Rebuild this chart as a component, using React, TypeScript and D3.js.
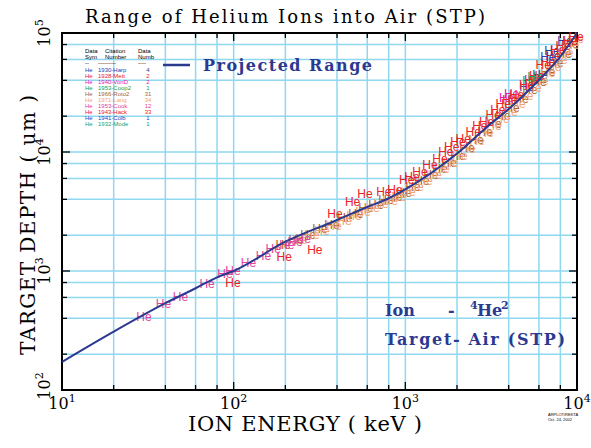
import { curveMonotoneX, line, scaleLog } from "d3";

// projected range curve (keV -> um)
const rangeEnergy = [10, 20, 40, 60, 80, 100, 200, 400, 600, 800, 1000, 2000, 3000, 4000, 6000, 8000, 10000];
const rangeDepth = [172, 309, 536, 716, 885, 1000, 1762, 2685, 3450, 4085, 4850, 9700, 16330, 22960, 40300, 63400, 100000];

// measured data, [energy keV, depth um]
const harpPts = [[5105, 34500], [6082, 43550], [7145, 69200], [8510, 83900]];
const mettPts = [[99, 778], [197, 1280]];
const vondPts = [[3890, 28250], [4159, 30130]];
const coop2Pts = [[5318, 38730]];
const roto2Pts = [
  [194, 1622], [231, 1787], [271, 1968], [318, 2213], [374, 2388], [444, 2735], [515, 2957], [590, 3320],
  [675, 3516], [771, 3873], [869, 4109], [981, 4438], [1107, 4989], [1250, 5600], [1409, 6292], [1591, 7069],
  [1795, 7932], [2024, 9078], [2285, 10600], [2578, 12380], [2910, 14460], [3283, 16880], [3702, 19690],
  [4178, 23020], [4714, 27380], [5318, 32580], [6000, 38030], [6761, 46140], [7530, 54960], [8389, 65370],
  [9211, 79320],
];
const langPts = [
  [243, 1784], [286, 1969], [327, 2127], [384, 2341], [439, 2580], [502, 2843], [566, 3070], [639, 3318],
  [721, 3585], [813, 3798], [918, 4104], [1035, 4523], [1153, 4984], [1301, 5593], [1468, 6280], [1634, 7050],
  [1843, 7914], [2080, 9072], [2317, 10380], [2615, 12130], [2947, 14160], [3283, 16210], [3654, 18550],
  [4069, 21240], [4531, 24800], [5038, 28980], [5610, 33840], [6164, 38730], [6761, 45230], [7329, 50760],
  [7943, 58140], [8610, 66550], [9333, 77670], [9862, 87380],
];
const cookPts = [
  [30, 405], [39, 518], [49, 597], [70, 763], [89, 925], [99, 986], [122, 1145], [149, 1303], [170, 1500],
  [204, 1622], [228, 1709], [254, 1822],
];
const hackPts = [
  [297, 1472], [389, 2993], [493, 3706], [582, 4355], [750, 4528], [869, 4678], [1018, 5675], [1094, 6053],
  [1217, 6668], [1391, 7589], [1591, 8617], [1722, 9818], [1862, 10810], [2024, 11910], [2175, 12700],
  [2485, 14460], [2716, 16220], [2974, 17540], [3251, 19960], [3459, 22140], [3716, 25000], [4064, 26860],
  [4447, 29380], [5083, 35650], [5455, 39530], [5815, 43240], [6357, 52480], [6761, 55970], [7268, 63670],
  [7742, 70630], [8312, 77260], [9094, 85100], [9862, 90770],
];
const colbPts = [[6761, 61620]];
const modePts = [[5690, 41880]];

const seriesCitation = ["1930-Harp", "1928-Mett", "1940-VonD", "1953-Coop2", "1966-Roto2", "1971-Lang", "1953-Cook", "1943-Hack", "1941-Colb", "1932-Mode"];
const seriesCount = ["4", "2", "2", "1", "31", "34", "12", "33", "1", "1"];
const seriesColor = ["#2f3ca8", "#e8202a", "#e020b8", "#18a048", "#a8642c", "#f4a474", "#e2449a", "#ec2224", "#3040c0", "#20a070"];
const seriesPts = [harpPts, mettPts, vondPts, coop2Pts, roto2Pts, langPts, cookPts, hackPts, colbPts, modePts];

const xDecades = [10, 100, 1000, 10000];
const yDecades = [100, 1000, 10000, 100000];
const xExp = ["1", "2", "3", "4"];
const yExp = ["2", "3", "4", "5"];
const minorMult = [2, 4, 6, 8];

const W = 591;
const H = 448;
const L = 62;
const R = 577;
const T = 33;
const B = 390;
const GRID = "#8ed8f0";
const BLUE = "#2b3990";

export default function App() {
  const x = scaleLog().domain([10, 10000]).range([L, R]);
  const y = scaleLog().domain([100, 100000]).range([B, T]);

  const xGrid: number[] = [];
  xDecades.forEach((d, i) => {
    if (i > 0) xGrid.push(d);
    if (i < xDecades.length - 1) minorMult.forEach((m) => xGrid.push(d * m));
  });
  const yGrid: number[] = [];
  yDecades.forEach((d, i) => {
    if (i > 0) yGrid.push(d);
    if (i < yDecades.length - 1) minorMult.forEach((m) => yGrid.push(d * m));
  });

  const curve = line<number>()
    .x((i) => x(rangeEnergy[i]))
    .y((i) => y(rangeDepth[i]))
    .curve(curveMonotoneX)(rangeEnergy.map((_, i) => i)) ?? "";

  const serif = "'DejaVu Serif', serif";
  const sans = "'Liberation Sans', Arial, sans-serif";

  return (
    <svg width={W} height={H} style={{ position: "absolute", left: 0, top: 0, background: "#fff" }}>
      {/* grid */}
      {xGrid.map((v) => (
        <line key={"gx" + v} x1={x(v)} x2={x(v)} y1={T} y2={B} stroke={GRID} strokeWidth={1.5} />
      ))}
      {yGrid.map((v) => (
        <line key={"gy" + v} x1={L} x2={R} y1={y(v)} y2={y(v)} stroke={GRID} strokeWidth={1.5} />
      ))}
      {/* ticks */}
      {xGrid.map((v) => {
        const len = xDecades.includes(v) ? 8 : 5;
        return (
          <g key={"tx" + v} stroke="#000" strokeWidth={1.3}>
            <line x1={x(v)} x2={x(v)} y1={B} y2={B - len} />
            <line x1={x(v)} x2={x(v)} y1={T} y2={T + len} />
          </g>
        );
      })}
      {yGrid.map((v) => {
        const len = yDecades.includes(v) ? 8 : 5;
        return (
          <g key={"ty" + v} stroke="#000" strokeWidth={1.3}>
            <line x1={L} x2={L + len} y1={y(v)} y2={y(v)} />
            <line x1={R} x2={R - len} y1={y(v)} y2={y(v)} />
          </g>
        );
      })}
      <rect x={L} y={T} width={R - L} height={B - T} fill="none" stroke="#000" strokeWidth={2} />

      {/* data markers */}
      {seriesPts.map((pts, s) =>
        pts.map((p, i) => (
          <text
            key={s + "-" + i}
            x={x(p[0])}
            y={y(p[1])}
            fill={seriesColor[s]}
            fontFamily={sans}
            fontSize={12}
            textAnchor="middle"
            dominantBaseline="middle"
          >
            He
          </text>
        )),
      )}

      <path d={curve} fill="none" stroke={BLUE} strokeWidth={2} />

      {/* tick labels */}
      {xDecades.map((v, i) => (
        <text key={"xl" + v} x={x(v)} y={409} textAnchor="middle" fontFamily={serif} fontSize={16}>
          10
          <tspan fontSize={11} dy={-7}>{xExp[i]}</tspan>
        </text>
      ))}
      {yDecades.map((v, i) => (
        <text
          key={"yl" + v}
          transform={`translate(50,${y(v) - (i === 0 ? 4 : 0)}) rotate(-90)`}
          textAnchor="middle"
          fontFamily={serif}
          fontSize={16}
        >
          10
          <tspan fontSize={11} dy={-7}>{yExp[i]}</tspan>
        </text>
      ))}

      {/* titles */}
      <text x={285} y={23} textAnchor="middle" fontFamily={serif} fontSize={18} textLength={400} lengthAdjust="spacing">
        Range of Helium Ions into Air (STP)
      </text>
      <text x={305} y={431} textAnchor="middle" fontFamily={serif} fontSize={21} textLength={234} lengthAdjust="spacing">
        ION ENERGY ( keV )
      </text>
      <text
        transform="translate(35,225) rotate(-90)"
        textAnchor="middle"
        fontFamily={serif}
        fontSize={20}
        textLength={260}
        lengthAdjust="spacing"
      >
        TARGET DEPTH ( um )
      </text>

      {/* projected range legend */}
      <line x1={163} x2={190} y1={65} y2={65} stroke={BLUE} strokeWidth={2.5} />
      <text x={203} y={71} fill={BLUE} fontFamily={serif} fontWeight="bold" fontSize={16} textLength={169} lengthAdjust="spacing">
        Projected Range
      </text>

      {/* ion / target note */}
      <text y={316} fill={BLUE} fontFamily={serif} fontWeight="bold" fontSize={16}>
        <tspan x={385}>Ion</tspan>
        <tspan x={448}>-</tspan>
        <tspan x={470} fontSize={11} dy={-7}>4</tspan>
        <tspan x={477} dy={7}>He</tspan>
        <tspan x={501} fontSize={11} dy={-7}>2</tspan>
      </text>
      <text x={385} y={345} fill={BLUE} fontFamily={serif} fontWeight="bold" fontSize={16} textLength={180} lengthAdjust="spacing">
        Target- Air (STP)
      </text>

      {/* small data legend */}
      <g fontFamily={sans} fontSize={6}>
        <text x={85} y={53}>Data</text>
        <text x={85} y={59}>Sym</text>
        <text x={105} y={53}>Citation</text>
        <text x={105} y={59}>Number</text>
        <text x={138} y={53}>Data</text>
        <text x={138} y={59}>Numb</text>
        <text x={85} y={65}>--</text>
        <text x={98} y={65}>---------</text>
        <text x={138} y={65}>----</text>
        {seriesCitation.map((c, i) => (
          <g key={c} fill={seriesColor[i]}>
            <text x={85} y={71.5 + i * 6}>He</text>
            <text x={98} y={71.5 + i * 6}>{c}</text>
            <text x={148} y={71.5 + i * 6} textAnchor="middle">{seriesCount[i]}</text>
          </g>
        ))}
      </g>

      <g fontFamily={sans} fontSize={4}>
        <text x={548} y={416}>ARPLOT/REKTA</text>
        <text x={548} y={421}>Oct. 24, 2002</text>
      </g>
    </svg>
  );
}
